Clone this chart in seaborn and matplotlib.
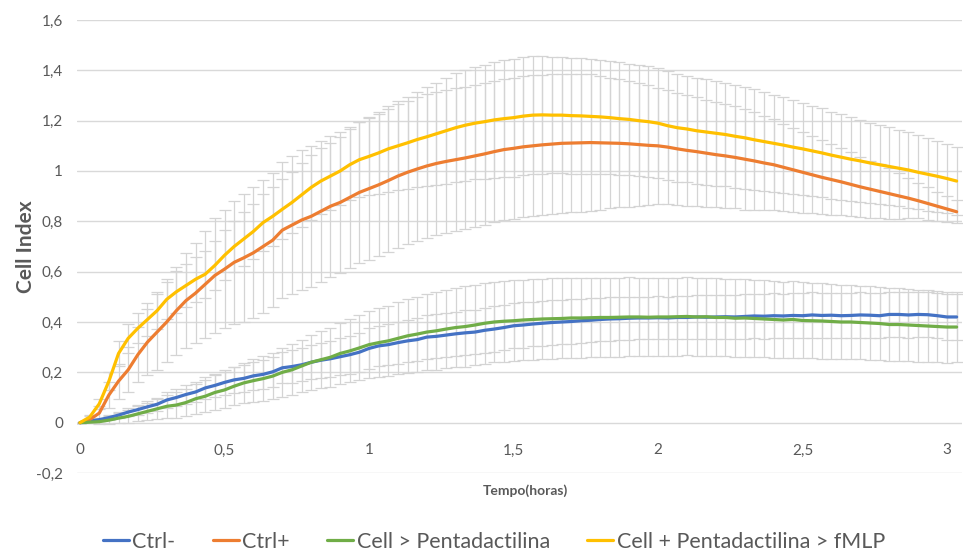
import numpy as np
import pandas as pd
import matplotlib
matplotlib.use("Agg")
import matplotlib.pyplot as plt
import seaborn as sns

# Readings every 2 minutes (hours)
tempo = np.arange(92) / 30.0

series_names = ["Ctrl-", "Ctrl+", "Cell > Pentadactilina", "Cell + Pentadactilina > fMLP"]
series_colors = ["#4472C4", "#ED7D31", "#70AD47", "#FFC000"]

ctrl_neg = [0, .006, .012, .02, .03, .042, .052, .063, .073, .09,
            .10, .112, .122, .138, .148, .16, .17, .176, .186, .192,
            .202, .218, .223, .23, .24, .248, .254, .262, .27, .28,
            .295, .305, .31, .318, .325, .33, .34, .343, .348, .353,
            .357, .36, .367, .372, .378, .385, .388, .392, .395, .398,
            .40, .402, .405, .407, .41, .412, .413, .415, .416, .416,
            .417, .416, .418, .418, .42, .419, .42, .421, .42, .422,
            .424, .423, .425, .424, .426, .425, .428, .426, .427, .425,
            .426, .428, .427, .425, .43, .43, .428, .43, .429, .425,
            .42, .42]
ctrl_pos = [0, .012, .038, .11, .165, .21, .27, .32, .36, .40,
            .445, .485, .515, .55, .585, .61, .637, .655, .675, .70,
            .725, .765, .785, .805, .82, .84, .86, .875, .895, .915,
            .93, .945, .962, .98, .995, 1.008, 1.02, 1.03, 1.038, 1.045,
            1.052, 1.06, 1.068, 1.077, 1.085, 1.09, 1.096, 1.10, 1.104, 1.107,
            1.11, 1.111, 1.112, 1.113, 1.112, 1.111, 1.11, 1.108, 1.105, 1.102,
            1.10, 1.095, 1.088, 1.082, 1.077, 1.071, 1.065, 1.06, 1.054, 1.047,
            1.04, 1.032, 1.025, 1.015, 1.005, .995, .985, .975, .966, .957,
            .947, .937, .928, .919, .91, .901, .892, .882, .871, .86,
            .849, .838]
cell_penta = [0, .002, .004, .01, .018, .025, .035, .045, .055, .065,
              .07, .08, .095, .105, .12, .13, .145, .158, .167, .175,
              .185, .20, .21, .225, .24, .25, .26, .275, .285, .297,
              .31, .318, .325, .335, .345, .352, .36, .365, .372, .378,
              .382, .388, .395, .40, .403, .405, .408, .41, .412, .413,
              .414, .416, .416, .417, .418, .418, .419, .42, .42, .419,
              .42, .42, .421, .422, .42, .421, .418, .418, .415, .416,
              .414, .412, .41, .408, .41, .406, .405, .404, .402, .40,
              .40, .398, .396, .394, .39, .39, .388, .386, .384, .382,
              .38, .38]
cell_penta_fmlp = [0, .022, .075, .165, .275, .335, .375, .41, .445, .49,
                   .52, .545, .57, .59, .625, .665, .70, .73, .76, .795,
                   .82, .848, .875, .905, .935, .96, .98, 1.00, 1.025, 1.045,
                   1.058, 1.072, 1.088, 1.10, 1.112, 1.125, 1.136, 1.148, 1.16, 1.172,
                   1.182, 1.19, 1.196, 1.203, 1.208, 1.212, 1.218, 1.222, 1.223, 1.222,
                   1.222, 1.22, 1.219, 1.217, 1.215, 1.212, 1.208, 1.205, 1.20, 1.196,
                   1.19, 1.18, 1.172, 1.167, 1.16, 1.155, 1.15, 1.145, 1.138, 1.132,
                   1.124, 1.117, 1.11, 1.103, 1.095, 1.088, 1.08, 1.072, 1.063, 1.055,
                   1.047, 1.04, 1.032, 1.025, 1.018, 1.011, 1.004, .995, .987, .979,
                   .97, .96]

# Standard deviations
sd_ctrl_neg = [0, .003, .007, .01, .013, .017, .02, .023, .027, .03,
               .033, .037, .04, .043, .047, .05, .052, .054, .056, .058,
               .06, .062, .064, .066, .068, .07, .072, .074, .075, .077,
               .08, .081, .082, .083, .084, .085, .086, .087, .088, .088,
               .089, .089, .09, .09, .09, .09, .09, .089, .089, .088,
               .088, .088, .087, .087, .087, .086, .086, .086, .085, .085,
               .085, .085, .086, .086, .086, .087, .087, .087, .088, .088,
               .088, .089, .089, .089, .09, .09, .09, .09, .09, .09,
               .09, .09, .09, .09, .09, .09, .09, .09, .09, .09,
               .09, .09]
sd_ctrl_pos = [0, .013, .03, .05, .07, .09, .11, .13, .15, .16,
               .175, .19, .20, .213, .227, .235, .245, .255, .26, .263,
               .266, .27, .273, .277, .28, .28, .28, .28, .28, .28,
               .282, .283, .284, .285, .285, .285, .285, .285, .285, .285,
               .283, .283, .282, .281, .28, .28, .28, .28, .279, .278,
               .276, .274, .273, .271, .265, .26, .255, .25, .245, .238,
               .23, .227, .223, .22, .217, .213, .21, .207, .203, .20,
               .193, .187, .18, .173, .167, .16, .153, .147, .14, .133,
               .127, .12, .113, .107, .10, .09, .08, .07, .065, .058,
               .05, .045]
sd_cell_penta = [0, .005, .01, .015, .02, .025, .03, .035, .04, .045,
                 .05, .055, .06, .064, .068, .072, .076, .08, .085, .088,
                 .092, .097, .101, .105, .11, .113, .117, .12, .125, .129,
                 .133, .136, .14, .143, .146, .149, .152, .154, .156, .158,
                 .16, .16, .16, .16, .16, .16, .16, .16, .16, .16,
                 .159, .159, .158, .158, .158, .157, .157, .157, .156, .156,
                 .156, .155, .155, .155, .155, .155, .155, .154, .154, .154,
                 .153, .153, .153, .152, .152, .151, .15, .15, .15, .149,
                 .148, .147, .147, .146, .145, .145, .144, .143, .142, .142,
                 .141, .14]
sd_cell_penta_fmlp = [0, .007, .02, .035, .05, .057, .06, .067, .073, .08,
                      .083, .087, .09, .093, .097, .10, .103, .107, .11, .113,
                      .117, .12, .123, .127, .13, .13, .133, .137, .142, .148,
                      .155, .162, .17, .177, .183, .19, .197, .203, .21, .217,
                      .22, .223, .227, .23, .233, .235, .235, .235, .233, .23,
                      .23, .23, .229, .228, .226, .225, .224, .222, .221, .22,
                      .218, .216, .214, .212, .211, .21, .208, .206, .205, .202,
                      .20, .197, .193, .19, .187, .183, .18, .177, .173, .17,
                      .167, .163, .16, .157, .155, .152, .15, .147, .145, .141,
                      .138, .136]

y_ticks = [-0.2, 0, 0.2, 0.4, 0.6, 0.8, 1.0, 1.2, 1.4, 1.6]
y_tick_labels = ["-0,2", "0", "0,2", "0,4", "0,6", "0,8", "1", "1,2", "1,4", "1,6"]
x_ticks = [0, 0.5, 1, 1.5, 2, 2.5, 3]
x_tick_labels = ["0", "0,5", "1", "1,5", "2", "2,5", "3"]

means = [ctrl_neg, ctrl_pos, cell_penta, cell_penta_fmlp]
sds = [sd_ctrl_neg, sd_ctrl_pos, sd_cell_penta, sd_cell_penta_fmlp]

df = pd.concat(
    [pd.DataFrame({"Tempo": tempo, "CI": m, "sd": s, "Serie": n})
     for n, m, s in zip(series_names, means, sds)],
    ignore_index=True,
)

sns.set_theme(style="white")
plt.rcParams["font.family"] = ["Lato", "DejaVu Sans"]
text_grey = "#595959"
grid_grey = "#d9d9d9"

fig = plt.figure(figsize=(9.63, 5.53), dpi=100)
ax = fig.add_axes([77 / 963, 1 - 473 / 553, (962 - 77) / 963, (473 - 20) / 553])

# grey standard-deviation bars under the lines
for name in series_names:
    d = df[df["Serie"] == name]
    ax.errorbar(d["Tempo"], d["CI"], yerr=d["sd"], fmt="none",
                ecolor="#d4d4d4", elinewidth=0.9, capsize=4, capthick=0.9,
                zorder=1)

sns.lineplot(data=df, x="Tempo", y="CI", hue="Serie", hue_order=series_names,
             palette=series_colors, linewidth=2.3, errorbar=None, ax=ax,
             zorder=3)

ax.set_xlim(-3 / 289, 882 / 289)
ax.set_ylim(-0.2, 1.6)
ax.set_yticks(y_ticks)
ax.set_yticklabels(y_tick_labels)
ax.set_xticks(x_ticks)
ax.set_xticklabels(x_tick_labels)
ax.tick_params(axis="both", length=0, labelsize=11, colors=text_grey)
ax.tick_params(axis="y", pad=10)
ax.tick_params(axis="x", pad=15)

ax.spines["bottom"].set_position(("data", 0))
for sp in ax.spines.values():
    sp.set_visible(False)
ax.yaxis.grid(True, color=grid_grey, linewidth=1.0)
ax.xaxis.grid(False)
ax.set_axisbelow(True)

ax.set_xlabel("")
ax.set_ylabel("")
fig.text(525 / 963, 1 - 491 / 553, "Tempo(horas)", ha="center", va="center",
         fontsize=10, fontweight="bold", color=text_grey)
fig.text(26 / 963, 1 - 247 / 553, "Cell Index", ha="center", va="center",
         rotation=90, fontsize=15, fontweight="bold", color=text_grey)

ax.get_legend().remove()
handles = [plt.Line2D([], [], color=c, linewidth=2.3) for c in series_colors]
fig.legend(handles, series_names, loc="center", ncol=4,
           bbox_to_anchor=(494 / 963, 1 - 542 / 553), frameon=False,
           fontsize=15.5, handlelength=1.2, handletextpad=0.15,
           columnspacing=1.75, labelcolor=text_grey)

fig.savefig("out.png", dpi=100)
